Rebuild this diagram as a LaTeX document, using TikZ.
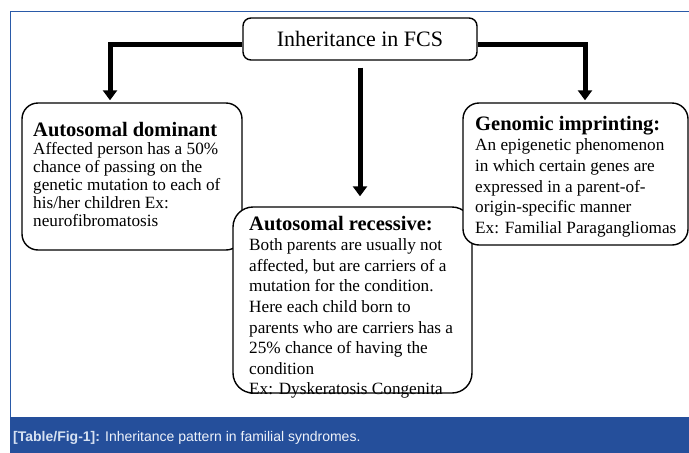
\documentclass[tikz,border=0pt]{standalone}
\usepackage{fontspec}
\setmainfont{Liberation Serif}
\newfontfamily\capfont{Liberation Sans}
\usetikzlibrary{arrows.meta}
\definecolor{framebl}{RGB}{42,90,168}
\definecolor{barbl}{RGB}{37,79,155}
\definecolor{lablt}{RGB}{214,225,242}
\definecolor{captx}{RGB}{238,242,250}
\tikzset{
  box/.style={draw=black, line width=1.4pt, fill=white, inner sep=0pt},
  conn/.style={draw=black, line width=5pt, -{Triangle[width=14pt,length=10pt]}},
  txt/.style={inner sep=0pt, anchor=base west},
}
\newcommand{\hd}[1]{{\fontsize{20.5}{20.5}\selectfont\bfseries #1}\par}
\begin{document}
\begin{tikzpicture}[x=1pt,y=-1pt]
\useasboundingbox (0,0) rectangle (689,453);
% frame and caption bar
\draw[framebl, line width=1.3pt] (689,11.5) -| (10.5,417);
\fill[barbl] (10,417) rectangle (689,453);
\node[txt, font=\capfont\fontsize{14}{16}\selectfont] (cap) at (13,441)
  {\textcolor{lablt}{\bfseries [Table/Fig-1]:} \textcolor{captx}{Inheritance pattern in familial syndromes.}};
% boxes
\node[box, rounded corners=8pt, minimum width=234pt, minimum height=42pt,
      font=\fontsize{22}{24}\selectfont] (title) at (360,39) {Inheritance in FCS};
\node[box, rounded corners=16pt, minimum width=220pt, minimum height=147pt] (ad) at (132,176.5) {};
\node[txt] (adt) at (33,136) {\parbox[t]{215pt}{\raggedright
  \hd{Autosomal dominant}
  \fontsize{17.2}{18}\selectfont
  Affected person has a 50\%\\
  chance of passing on the\\
  genetic mutation to each of\\
  his/her children Ex:\\
  neurofibromatosis}};
\node[box, rounded corners=20pt, minimum width=239pt, minimum height=186pt] (ar) at (352.5,300) {};
\node[txt] (art) at (249,230) {\parbox[t]{225pt}{\raggedright
  \hd{Autosomal recessive:}
  \fontsize{17.2}{20.6}\selectfont
  Both parents are usually not\\
  affected, but are carriers of a\\
  mutation for the condition.\\
  Here each child born to\\
  parents who are carriers has a\\
  25\% chance of having the\\
  condition\\
  Ex: Dyskeratosis Congenita}};
\node[box, rounded corners=16pt, minimum width=225pt, minimum height=142pt] (gi) at (575.5,174) {};
\node[txt] (git) at (475,130) {\parbox[t]{215pt}{\raggedright
  \hd{Genomic imprinting:}
  \fontsize{17.2}{20.7}\selectfont
  An epigenetic phenomenon\\
  in which certain genes are\\
  expressed in a parent-of-\\
  origin-specific manner\\
  Ex: Familial Paragangliomas}};
% connectors
\draw[conn, shorten >=2pt] ([yshift=-5pt]title.west) -| ([xshift=-22pt]ad.north);
\draw[conn, shorten >=2pt] ([yshift=-5pt]title.east) -| ([xshift=9.5pt]gi.north);
\draw[conn, shorten <=7pt, shorten >=10pt] (title.south) -- (title.south |- ar.north);
\end{tikzpicture}
\end{document}
